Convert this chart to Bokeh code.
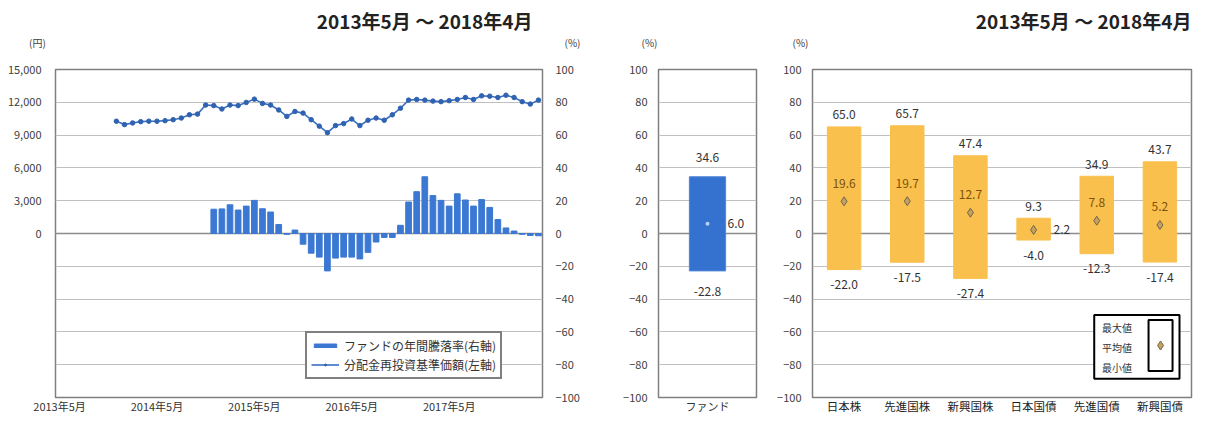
from bokeh.plotting import figure
from bokeh.models import (Range1d, LinearAxis, FixedTicker, NumeralTickFormatter,
                          FactorRange, Legend, LegendItem, Span, ColumnDataSource)
from bokeh.layouts import row, column
from bokeh.embed import file_html
from bokeh.resources import INLINE
from bokeh.core.properties import value

FONT = "Noto Sans CJK JP"

# ---------------- data ----------------
months = [f"{2013 + (4 + i) // 12}-{(4 + i) % 12 + 1:02d}" for i in range(60)]  # 2013-05 .. 2018-04
x_tick_months = ["2013-05", "2014-05", "2015-05", "2016-05", "2017-05"]
x_tick_labels = ["2013年5月", "2014年5月", "2015年5月", "2016年5月", "2017年5月"]

nav_start = "2013-12"
nav = [10270, 9960, 10110, 10230, 10270, 10270, 10320, 10410, 10560, 10860,
       10920, 11750, 11700, 11390, 11750, 11700, 11990, 12290, 11900, 11750,
       11300, 10710, 11160, 11010, 10410, 9820, 9220, 9870, 10050, 10470,
       9870, 10360, 10560, 10360, 10860, 11460, 12200, 12260, 12200, 12110,
       12060, 12150, 12260, 12440, 12260, 12590, 12560, 12440, 12650, 12440,
       12060, 11840, 12200]

ret_start = "2014-12"
annual_return = [14.8, 15.0, 17.5, 14.3, 16.7, 20.2, 15.1, 13.1, 5.5, -0.5,
                 2.1, -6.5, -12.0, -14.4, -22.8, -15.0, -14.4, -14.4, -15.5, -11.5,
                 -5.2, -2.4, -2.4, 5.0, 19.2, 25.5, 34.6, 23.1, 20.2, 16.7,
                 24.2, 20.4, 16.7, 20.7, 15.9, 8.5, 3.4, 1.5, -0.5, -1.2, -1.4]

fund_name = ["ファンド"]
fund_max = [34.6]
fund_avg = [6.0]
fund_min = [-22.8]

categories = ["日本株", "先進国株", "新興国株", "日本国債", "先進国債", "新興国債"]
cat_max = [65.0, 65.7, 47.4, 9.3, 34.9, 43.7]
cat_avg = [19.6, 19.7, 12.7, 2.2, 7.8, 5.2]
cat_min = [-22.0, -17.5, -27.4, -4.0, -12.3, -17.4]

period_title = "2013年5月 ～ 2018年4月"
unit_labels = ["(円)", "(%)", "(%)", "(%)"]
legend_labels = ["ファンドの年間騰落率(右軸)", "分配金再投資基準価額(左軸)"]
key_labels = ["最大値", "平均値", "最小値"]

pct_ticks = list(range(-100, 101, 20))
yen_ticks = list(range(0, 15001, 3000))

# ---------------- styles ----------------
BLUE_BAR = "#3b78d3"
BLUE_LINE = "#3a6fc2"
FUND_BAR = "#3572cf"
GOLD = "#f9c04e"
GRID = "#c0c0c0"
FRAME = "#7f7f7f"
W_TOTAL = 1193
HEAD_H = 60
H = 356
TOP = 9
BOTTOM = 17


def style_axis(ax, standoff, size="11px", color="#404040"):
    ax.axis_line_color = None
    ax.major_tick_line_color = None
    ax.minor_tick_line_color = None
    ax.major_tick_out = 0
    ax.major_tick_in = 0
    ax.minor_tick_out = 0
    ax.minor_tick_in = 0
    ax.major_label_text_font = FONT
    ax.major_label_text_font_size = size
    ax.major_label_text_color = color
    ax.major_label_standoff = standoff


def style_fig(p):
    p.outline_line_color = FRAME
    p.outline_line_width = 1.5
    p.xgrid.visible = False
    p.ygrid.ticker = FixedTicker(ticks=pct_ticks)
    p.ygrid.grid_line_color = GRID
    p.add_layout(Span(location=0, dimension="width", line_color="#8c8c8c",
                      line_width=1.5, level="underlay"))


# ---------------- header strip (titles and axis units) ----------------
head = figure(width=W_TOTAL, height=HEAD_H, x_range=Range1d(0, W_TOTAL),
              y_range=Range1d(HEAD_H, 0), output_backend="svg", toolbar_location=None,
              x_axis_location=None, y_axis_location=None, min_border=0)
head.grid.visible = False
head.outline_line_color = None
head.text(x=[532, 1191], y=[20, 20], text=[period_title, period_title],
          text_align="right", text_baseline="middle", text_font=value(FONT),
          text_font_size=value("19px"), text_font_style="bold", text_color="#222222")
head.text(x=[37, 572, 649, 800], y=[42] * 4, text=unit_labels, text_align="center",
          text_baseline="middle", text_font=value(FONT), text_font_size=value("10px"),
          text_color="#404040")

# ---------------- left chart ----------------
p1 = figure(width=592, height=H, x_range=Range1d(-0.5, 59.5), y_range=Range1d(-100, 100),
            output_backend="svg", toolbar_location=None, y_axis_location=None,
            min_border_left=55, min_border_right=50, min_border_top=TOP,
            min_border_bottom=BOTTOM)
p1.extra_y_ranges = {"yen": Range1d(-15000, 15000)}
left_ax = LinearAxis(y_range_name="yen", ticker=FixedTicker(ticks=yen_ticks),
                     formatter=NumeralTickFormatter(format="0,0"))
right_ax = LinearAxis(ticker=FixedTicker(ticks=pct_ticks))
style_axis(left_ax, 14)
style_axis(right_ax, 13)
p1.add_layout(left_ax, "left")
p1.add_layout(right_ax, "right")
style_fig(p1)

tick_pos = [months.index(m) for m in x_tick_months]
p1.xaxis.ticker = FixedTicker(ticks=tick_pos)
p1.xaxis.major_label_overrides = {pos: lab for pos, lab in zip(tick_pos, x_tick_labels)}
style_axis(p1.xaxis[0], 0, color="#333333")

i0 = months.index(ret_start)
ret_src = ColumnDataSource(dict(x=list(range(i0, i0 + len(annual_return))), top=annual_return))
bars = p1.vbar(x="x", top="top", bottom=0, width=0.7, source=ret_src,
               fill_color=BLUE_BAR, line_color=BLUE_BAR)

j0 = months.index(nav_start)
nav_src = ColumnDataSource(dict(x=list(range(j0, j0 + len(nav))), y=nav))
nav_line = p1.line(x="x", y="y", source=nav_src, y_range_name="yen",
                   line_color=BLUE_LINE, line_width=1.6)
nav_pts = p1.scatter(x="x", y="y", source=nav_src, y_range_name="yen", marker="circle",
                     size=4.5, fill_color="#2f62b0", line_color="#2f62b0")

legend = Legend(items=[LegendItem(label=legend_labels[0], renderers=[bars]),
                       LegendItem(label=legend_labels[1], renderers=[nav_line, nav_pts])],
                location=(250, 18), label_text_font=FONT, label_text_font_size="12px",
                label_text_color="#333333", glyph_width=28, glyph_height=5,
                label_height=15, label_standoff=5, spacing=2, padding=4, margin=0,
                border_line_color="black", border_line_width=2,
                background_fill_alpha=1.0)
p1.add_layout(legend)

# ---------------- middle chart (fund) ----------------
p2 = figure(width=180, height=H, x_range=FactorRange(factors=fund_name),
            y_range=Range1d(-100, 100), output_backend="svg", toolbar_location=None,
            min_border_left=66, min_border_right=16, min_border_top=TOP,
            min_border_bottom=BOTTOM)
style_fig(p2)
p2.yaxis.ticker = FixedTicker(ticks=pct_ticks)
style_axis(p2.yaxis[0], 11)
style_axis(p2.xaxis[0], 0, color="#333333")

fsrc = ColumnDataSource(dict(x=fund_name, top=fund_max, bottom=fund_min, avg=fund_avg,
                             tmax=[f"{v:.1f}" for v in fund_max],
                             tmin=[f"{v:.1f}" for v in fund_min],
                             tavg=[f"{v:.1f}" for v in fund_avg]))
p2.vbar(x="x", top="top", bottom="bottom", width=0.37, source=fsrc,
        fill_color=FUND_BAR, line_color="#4f86d8")
p2.scatter(x="x", y="avg", source=fsrc, marker="circle", size=4,
           fill_color="#b9d1f2", line_color=None)
txt = dict(text_font=value(FONT), text_font_size=value("12px"), text_color="#333333",
           text_baseline="middle", source=fsrc)
p2.text(x="x", y="top", text="tmax", text_align="center", y_offset=-19, **txt)
p2.text(x="x", y="bottom", text="tmin", text_align="center", y_offset=21, **txt)
p2.text(x="x", y="avg", text="tavg", text_align="left", x_offset=20, **txt)

# ---------------- right chart (asset classes) ----------------
p3 = figure(width=421, height=H, x_range=FactorRange(factors=categories),
            y_range=Range1d(-100, 100), output_backend="svg", toolbar_location=None,
            min_border_left=40, min_border_right=2, min_border_top=TOP,
            min_border_bottom=BOTTOM)
style_fig(p3)
p3.yaxis.ticker = FixedTicker(ticks=pct_ticks)
style_axis(p3.yaxis[0], 11)
style_axis(p3.xaxis[0], 0, size="11.5px", color="#222222")

narrow = [(mx - mn) < 20 for mx, mn in zip(cat_max, cat_min)]
csrc = ColumnDataSource(dict(x=categories, top=cat_max, bottom=cat_min, avg=cat_avg,
                             tmax=[f"{v:.1f}" for v in cat_max],
                             tmin=[f"{v:.1f}" for v in cat_min],
                             tavg=[f"{v:.1f}" for v in cat_avg],
                             ax_off=[20 if n else 0 for n in narrow],
                             ay_off=[0 if n else -18 for n in narrow],
                             a_align=["left" if n else "center" for n in narrow],
                             a_color=["#333333" if n else "#7b5208" for n in narrow]))
p3.vbar(x="x", top="top", bottom="bottom", width=0.53, source=csrc,
        fill_color=GOLD, line_color=GOLD)
p3.scatter(x="x", y="avg", source=csrc, marker="diamond", size=9,
           fill_color="#c4a15c", line_color="#6f6450", line_width=1)
txt3 = dict(text_font=value(FONT), text_font_size=value("12px"), text_baseline="middle",
            source=csrc)
p3.text(x="x", y="top", text="tmax", text_align="center", y_offset=-12,
        text_color="#333333", **txt3)
p3.text(x="x", y="bottom", text="tmin", text_align="center", y_offset=15,
        text_color="#333333", **txt3)
p3.text(x="x", y="avg", text="tavg", text_align="a_align", x_offset="ax_off",
        y_offset="ay_off", text_color="a_color", **txt3)

# key box (legend for max / avg / min)
p3.quad(left=[4.46], right=[5.81], top=[-49.7], bottom=[-88.6], fill_color="white",
        line_color="black", line_width=2)
p3.quad(left=[5.32], right=[5.70], top=[-52.7], bottom=[-83.8], fill_color="white",
        line_color="black", line_width=2)
p3.scatter(x=[5.51], y=[-68.3], marker="diamond", size=9, fill_color="#c4a15c",
           line_color="#6f6450")
p3.text(x=[4.82] * 3, y=[-57.5, -69.5, -81.5], text=key_labels, text_align="center",
        text_baseline="middle", text_font=value(FONT), text_font_size=value("10px"),
        text_color="#333333")

layout = column(head, row(p1, p2, p3))
open("out.html", "w").write(file_html(layout, INLINE))
